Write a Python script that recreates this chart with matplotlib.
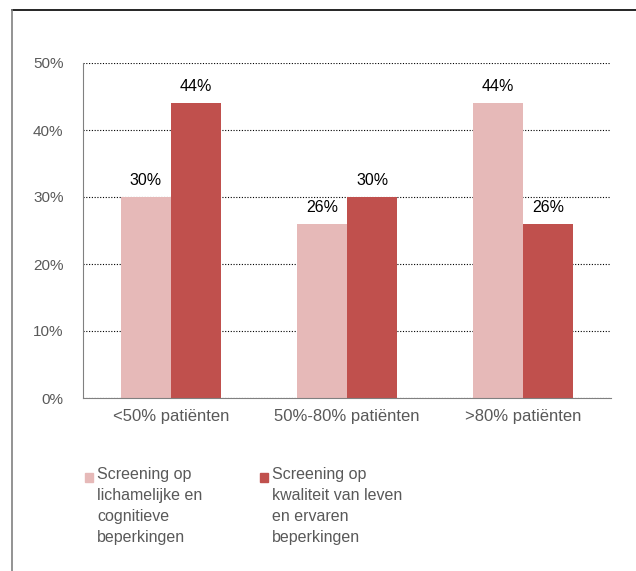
import matplotlib.pyplot as plt
from matplotlib.patches import Rectangle
from matplotlib.lines import Line2D
import numpy as np

plt.rcParams['font.family'] = ['Liberation Sans', 'DejaVu Sans']

categories = ["<50% patiënten", "50%-80% patiënten", ">80% patiënten"]
lichamelijk = [30, 26, 44]
kwaliteit = [44, 30, 26]
series_labels = ["Screening op\nlichamelijke en\ncognitieve\nbeperkingen",
                 "Screening op\nkwaliteit van leven\nen ervaren\nbeperkingen"]
colors = ["#E6B9B8", "#C0504D"]
gray = "#595959"

fig = plt.figure(figsize=(6.36, 5.71), dpi=100)
W, H = 636, 571
ax = fig.add_axes([83 / W, 1 - 398 / H, (611 - 83) / W, (398 - 63) / H])

x = np.arange(len(categories))
w = 0.285
ax.bar(x - w / 2, lichamelijk, w, color=colors[0], zorder=2)
ax.bar(x + w / 2, kwaliteit, w, color=colors[1], zorder=2)
for xi, v in zip(x - w / 2, lichamelijk):
    ax.text(xi, v + 1.3, f"{v}%", ha="center", va="bottom", fontsize=11.5, color="black", zorder=3)
for xi, v in zip(x + w / 2, kwaliteit):
    ax.text(xi, v + 1.3, f"{v}%", ha="center", va="bottom", fontsize=11.5, color="black", zorder=3)

ax.set_xlim(-0.5, 2.5)
ax.set_ylim(0, 50)
ax.set_yticks([0, 10, 20, 30, 40, 50])
ax.set_yticklabels([f"{t}%" for t in [0, 10, 20, 30, 40, 50]])
ax.set_xticks(x)
ax.set_xticklabels(categories)
ax.tick_params(axis="both", length=0, labelcolor=gray)
ax.tick_params(axis="y", pad=14, labelsize=11)
ax.tick_params(axis="x", pad=8, labelsize=12)
ax.yaxis.grid(True, linestyle=(0, (1, 1.5)), color="black", linewidth=0.8, zorder=0)
ax.set_axisbelow(True)
for s in ["top", "right"]:
    ax.spines[s].set_visible(False)
ax.spines["left"].set_color("#808080")
ax.spines["bottom"].set_color("#808080")

# legend drawn by hand so the square lines up with the first text line
for lx, label, c in [(85, series_labels[0], colors[0]), (260, series_labels[1], colors[1])]:
    fig.patches.append(Rectangle((lx / W, 1 - 482 / H), 8 / W, 9 / H, color=c,
                                 transform=fig.transFigure))
    fig.text((lx + 12) / W, 1 - 467 / H, label, ha="left", va="top", fontsize=11.5,
             color=gray, linespacing=1.5)

# outer frame (partially visible)
fig.add_artist(Line2D([12 / W, 1], [1 - 10 / H, 1 - 10 / H], color="black", linewidth=1.2,
                      transform=fig.transFigure))
fig.add_artist(Line2D([12 / W, 12 / W], [0, 1 - 10 / H], color="#808080", linewidth=1.2,
                      transform=fig.transFigure))

fig.savefig("out.png", dpi=100)
